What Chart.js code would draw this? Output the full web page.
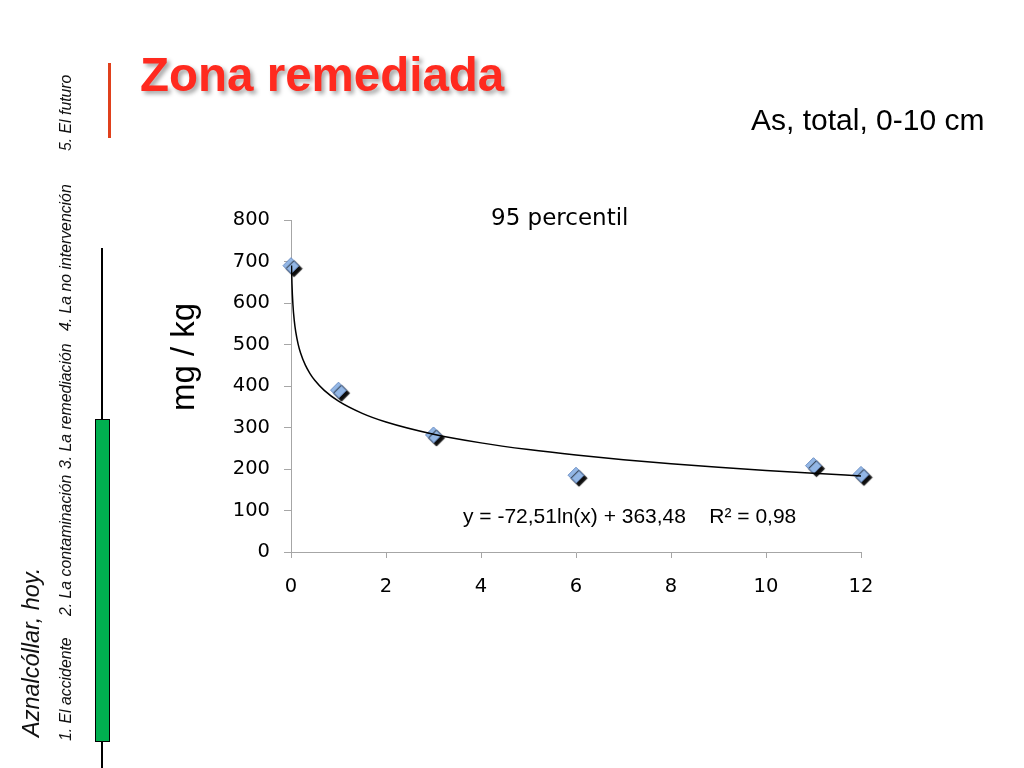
<!DOCTYPE html>
<html>
<head>
<meta charset="utf-8">
<script src="https://cdn.jsdelivr.net/npm/chart.js@4.4.1/dist/chart.umd.min.js"></script>
<style>
  body { margin: 0; width: 1024px; height: 768px; background: #fff; position: relative; overflow: hidden; font-family: "Liberation Sans", Arial, sans-serif; }
  #c { position: absolute; left: 0; top: 0; }
  .abs { position: absolute; white-space: nowrap; }
  .rot { transform-origin: 0 0; transform: rotate(-90deg); font-style: italic; color: #111; font-size: 15.8px; }
</style>
</head>
<body>
<canvas id="c" width="1024" height="768"></canvas>

<div class="abs" style="left:140px; top:47px; font:bold 47.5px 'Liberation Sans', Arial; color:#ff2a1f; text-shadow:3px 3px 4px rgba(0,0,0,0.35);">Zona remediada</div>
<div class="abs" style="left:751px; top:103px; font:30px 'Liberation Sans', Arial; color:#000;">As, total, 0-10 cm</div>
<div class="abs" style="left:491px; top:204px; font:23px 'DejaVu Sans', sans-serif; color:#000;">95 percentil</div>
<div class="abs" style="left:463px; top:504px; font:21px 'Liberation Sans', Arial; color:#000;">y = -72,51ln(x) + 363,48&nbsp;&nbsp;&nbsp;&nbsp;R² = 0,98</div>
<div class="abs" style="left:164px; top:411px; font:33px 'Liberation Sans', Arial; color:#000; transform-origin:0 0; transform:rotate(-90deg);">mg / kg</div>

<!-- barra lateral -->
<div class="abs rot" style="left:18px; top:737px; font-size:23.5px;">Aznalcóllar, hoy.</div>
<div class="abs rot" style="left:57px; top:741px;">1. El accidente</div>
<div class="abs rot" style="left:57px; top:616px;">2. La contaminación</div>
<div class="abs rot" style="left:57px; top:469px;">3. La remediación</div>
<div class="abs rot" style="left:57px; top:331px;">4. La no intervención</div>
<div class="abs rot" style="left:57px; top:151px;">5. El futuro</div>
<div class="abs" style="left:101px; top:248px; width:2px; height:520px; background:#000;"></div>
<div class="abs" style="left:95px; top:419px; width:13px; height:321px; background:#00b050; border:1px solid #000;"></div>
<div class="abs" style="left:108px; top:63px; width:3px; height:75px; background:#e0401c;"></div>

<script>
const years = [0, 1, 3, 6, 11, 12];
const values = [690, 390, 282, 185, 208, 187];
const trendA = -72.51;
const trendB = 363.48;
const trendX = [0.011, 0.02, 0.04, 0.07, 0.1, 0.15, 0.2, 0.3, 0.4, 0.5, 0.7, 1, 1.5, 2, 3, 4, 5, 6, 7, 8, 9, 10, 11, 12];
const yTicks = [0, 100, 200, 300, 400, 500, 600, 700, 800];
const xTicks = [0, 2, 4, 6, 8, 10, 12];

const points = years.map((x, i) => ({ x: x, y: values[i] }));
const trend = trendX.map(x => ({ x: x, y: trendA * Math.log(x) + trendB }));

const shadowPlugin = {
  id: 'shadow',
  beforeDatasetDraw(chart, args) {
    if (args.index === 1) {
      chart.ctx.save();
      chart.ctx.shadowColor = 'rgba(0,0,0,0.95)';
      chart.ctx.shadowOffsetX = 3;
      chart.ctx.shadowOffsetY = 3;
      chart.ctx.shadowBlur = 1;
    }
  },
  afterDatasetDraw(chart, args) {
    if (args.index === 1) chart.ctx.restore();
  }
};

new Chart(document.getElementById('c').getContext('2d'), {
  type: 'scatter',
  data: {
    datasets: [
      {
        data: trend,
        showLine: true,
        borderColor: '#000',
        borderWidth: 1.5,
        pointRadius: 0,
        cubicInterpolationMode: 'monotone'
      },
      {
        data: points,
        clip: false,
        pointStyle: 'rectRot',
        pointRadius: 8,
        backgroundColor: '#93b7e6',
        borderColor: '#6d8fc4',
        borderWidth: 1
      }
    ]
  },
  options: {
    responsive: false,
    animation: false,
    layout: { padding: { left: 221, top: 220, right: 163, bottom: 176 } },
    plugins: { legend: { display: false }, tooltip: { enabled: false } },
    scales: {
      x: {
        type: 'linear',
        min: 0,
        max: 12,
        afterFit: s => { s.height = 40; },
        afterBuildTicks: s => { s.ticks = xTicks.map(v => ({ value: v })); },
        grid: { drawOnChartArea: false, drawTicks: true, tickLength: 6, color: '#a6a6a6' },
        border: { color: '#a6a6a6', width: 1 },
        ticks: { color: '#000', padding: 17, font: { family: 'DejaVu Sans', size: 19.5 } }
      },
      y: {
        min: 0,
        max: 800,
        afterFit: s => { s.width = 70; },
        afterBuildTicks: s => { s.ticks = yTicks.map(v => ({ value: v })); },
        grid: { drawOnChartArea: false, drawTicks: true, tickLength: 7, color: '#a6a6a6' },
        border: { color: '#a6a6a6', width: 1 },
        ticks: { color: '#000', padding: 14, font: { family: 'DejaVu Sans', size: 19.5 } }
      }
    }
  },
  plugins: [shadowPlugin]
});
</script>
</body>
</html>
